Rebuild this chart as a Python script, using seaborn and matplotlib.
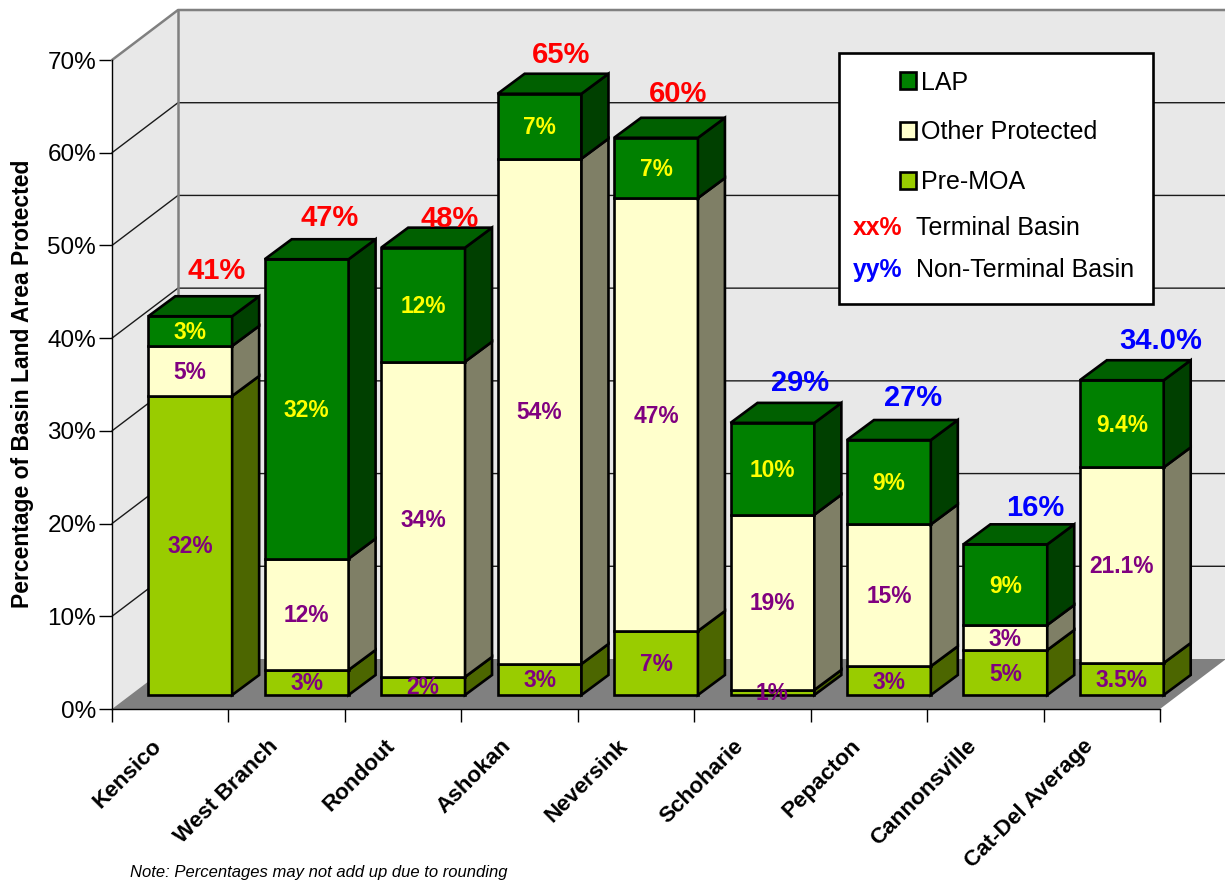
#!/usr/bin/env python3
# -*- coding: utf-8 -*-
'''Basin land area protected, stacked bars drawn with a fake 3D depth'''
import matplotlib
matplotlib.use("Agg")
import matplotlib.pyplot as plt
from matplotlib.patches import Patch, Polygon, Rectangle
import seaborn as sns

# data
basins = ["Kensico", "West Branch", "Rondout", "Ashokan", "Neversink",
          "Schoharie", "Pepacton", "Cannonsville", "Cat-Del Average"]
pre_moa = [32.25, 2.7, 1.95, 3.35, 6.9, 0.55, 3.1, 4.85, 3.45]
other_protected = [5.4, 12.0, 34.0, 54.5, 46.7, 18.9, 15.3, 2.7, 21.1]
lap = [3.2, 32.3, 12.3, 7.0, 6.5, 9.9, 9.1, 8.7, 9.4]
pre_moa_labels = ["32%", "3%", "2%", "3%", "7%", "1%", "3%", "5%", "3.5%"]
other_labels = ["5%", "12%", "34%", "54%", "47%", "19%", "15%", "3%", "21.1%"]
lap_labels = ["3%", "32%", "12%", "7%", "7%", "10%", "9%", "9%", "9.4%"]
total_labels = ["41%", "47%", "48%", "65%", "60%", "29%", "27%", "16%", "34.0%"]
terminal = [True, True, True, True, True, False, False, False, False]
y_ticks = [0, 10, 20, 30, 40, 50, 60, 70]

# pixels per data unit, the figure is 1225x884 at dpi 100
PX_X = 1048 / 9
PX_Y = 649 / 70
WALL_DX, WALL_DY = 66 / PX_X, 50 / PX_Y
BAR_DX, BAR_DY = 20 / PX_X, 14 / PX_Y
DEPTH_X, DEPTH_Y = 27 / PX_X, 20 / PX_Y
LABEL_SHIFT = 19 / PX_X
EDGE = 1.9

# where the total labels sit relative to the top of their bar, in pixels
total_nudge = [(26, 48), (23, 44), (27, 32), (22, 42), (22, 47),
               (28, 43), (24, 45), (30, 39), (39, 42)]

sns.set_theme(style="white")
plt.rcParams["font.family"] = ["Liberation Sans", "DejaVu Sans"]

fig = plt.figure(figsize=(12.25, 8.84), dpi=100)
ax = fig.add_axes([112 / 1225, (884 - 709) / 884, 1048 / 1225, 649 / 884])
ax.patch.set_visible(False)

# stacked front faces
bottoms = [0.0] * len(basins)
layers = [(pre_moa, "#99CC00", "#4C6600", pre_moa_labels, "#800080"),
          (other_protected, "#FFFFCC", "#7F7F66", other_labels, "#800080"),
          (lap, "#008000", "#004000", lap_labels, "#FFFF00")]
for values, front, side, labels, text_color in layers:
    start = len(ax.patches)
    sns.barplot(x=basins, y=values, bottom=bottoms, width=0.72, color=front,
                saturation=1, edgecolor="black", linewidth=EDGE, ax=ax)
    for i, bar in enumerate(ax.patches[start:]):
        bar.set_x(bar.get_x() + BAR_DX)
        bar.set_y(bar.get_y() + BAR_DY)
        bar.set_zorder(3)
        bar.set_clip_on(False)
        x0, x1 = bar.get_x(), bar.get_x() + bar.get_width()
        y0, y1 = bar.get_y(), bar.get_y() + bar.get_height()
        # right hand side of the block
        ax.add_patch(Polygon([(x1, y0), (x1 + DEPTH_X, y0 + DEPTH_Y),
                              (x1 + DEPTH_X, y1 + DEPTH_Y), (x1, y1)],
                             facecolor=side, edgecolor="black", linewidth=EDGE,
                             zorder=3, clip_on=False))
        # only the last layer shows a top face
        if values is lap:
            ax.add_patch(Polygon([(x0, y1), (x0 + DEPTH_X, y1 + DEPTH_Y),
                                  (x1 + DEPTH_X, y1 + DEPTH_Y), (x1, y1)],
                                 facecolor="#006000", edgecolor="black",
                                 linewidth=EDGE, zorder=3, clip_on=False))
        ax.text((x0 + x1) / 2, (y0 + y1) / 2 + 1 / PX_Y, labels[i], color=text_color,
                fontsize=16.4, fontweight="bold", ha="center",
                va="center_baseline", zorder=6)
    bottoms = [b + v for b, v in zip(bottoms, values)]

# totals over the bars
for i, label in enumerate(total_labels):
    ax.annotate(label, (i + BAR_DX, bottoms[i] + BAR_DY),
                xytext=total_nudge[i], textcoords="offset pixels",
                color="red" if terminal[i] else "blue", fontsize=21,
                fontweight="bold", ha="center", va="center_baseline",
                zorder=7, annotation_clip=False)

ax.set_xlim(-0.5, 8.5)
ax.set_ylim(0, 70)

# walls and floor behind the bars
left, right = -0.5, 8.5
ax.add_patch(Polygon([(left, 0), (left, 70), (left + WALL_DX, 70 + WALL_DY),
                      (right + WALL_DX, 70 + WALL_DY), (right + WALL_DX, WALL_DY),
                      (left + WALL_DX, WALL_DY)],
                     facecolor="#E8E8E8", edgecolor="none", zorder=0, clip_on=False))
ax.add_patch(Polygon([(left, 0), (right, 0), (right + WALL_DX, WALL_DY),
                      (left + WALL_DX, WALL_DY)],
                     facecolor="#808080", edgecolor="none", zorder=1, clip_on=False))
for v in y_ticks[1:-1]:
    ax.plot([left, left + WALL_DX, right + WALL_DX],
            [v, v + WALL_DY, v + WALL_DY], color="#1A1A1A", linewidth=1,
            zorder=1, clip_on=False)
ax.plot([left, left + WALL_DX, right + WALL_DX], [70, 70 + WALL_DY, 70 + WALL_DY],
        color="#808080", linewidth=1.8, zorder=1, clip_on=False)
ax.plot([left + WALL_DX, left + WALL_DX], [WALL_DY, 70 + WALL_DY],
        color="#808080", linewidth=1.8, zorder=1, clip_on=False)

# axes
for name in ["top", "right"]:
    ax.spines[name].set_visible(False)
for name in ["left", "bottom"]:
    ax.spines[name].set_color("black")
    ax.spines[name].set_linewidth(1)
ax.set_yticks(y_ticks)
ax.set_yticklabels([f"{v}%" for v in y_ticks])
ax.set_xticks([i - 0.5 for i in range(len(basins) + 1)])
ax.set_xticklabels([])
ax.set_xticks([i - LABEL_SHIFT for i in range(len(basins))], minor=True)
ax.set_xticklabels(basins, minor=True, rotation=45, ha="right", va="top",
                   rotation_mode="anchor", fontsize=16.2, fontweight="bold",
                   color="black")
ax.tick_params(axis="y", length=9.4, width=1, pad=2, color="black",
               labelsize=17.5, labelcolor="black", left=True)
ax.tick_params(axis="x", which="major", length=9.4, width=1, color="black",
               bottom=True)
ax.tick_params(axis="x", which="minor", length=0, pad=19, bottom=True)
ax.xaxis.get_major_ticks()[-1].tick1line.set_color("#808080")
ax.set_ylabel("Percentage of Basin Land Area Protected", fontsize=16.5,
              fontweight="bold", color="black")
ax.yaxis.set_label_coords(34 / 1225, (884 - 384) / 884, transform=fig.transFigure)

# legend box
ax.add_patch(Rectangle((839 / 1225, 1 - 304 / 884), 314 / 1225, 251 / 884,
                       transform=fig.transFigure, facecolor="white",
                       edgecolor="black", linewidth=EDGE, zorder=8, clip_on=False))
handles = [Patch(facecolor="#008000", edgecolor="black", linewidth=EDGE, label="LAP"),
           Patch(facecolor="#FFFFCC", edgecolor="black", linewidth=EDGE,
                 label="Other Protected"),
           Patch(facecolor="#99CC00", edgecolor="black", linewidth=EDGE, label="Pre-MOA")]
legend = ax.legend(handles=handles, frameon=False, loc="upper left",
                   bbox_to_anchor=(900 / 1225, 1 - 70.5 / 884),
                   bbox_transform=fig.transFigure, borderpad=0, borderaxespad=0,
                   fontsize=18, handlelength=0.65, handleheight=0.65,
                   handletextpad=0.18, labelspacing=1.03)
legend.set_zorder(9)
for text in legend.get_texts():
    text.set_color("black")
key_rows = [("xx%", "red", "Terminal Basin", 228),
            ("yy%", "blue", "Non-Terminal Basin", 270)]
for key, color, name, row in key_rows:
    ax.text(853 / 1225, 1 - row / 884, key, transform=fig.transFigure, color=color,
            fontsize=17.8, fontweight="bold", va="center", zorder=9)
    ax.text(916 / 1225, 1 - row / 884, name, transform=fig.transFigure, color="black",
            fontsize=18, va="center", zorder=9)

fig.text(130 / 1225, 1 - 873 / 884,
         "Note: Percentages may not add up due to rounding",
         fontsize=12, fontstyle="italic", color="black", va="center")

fig.savefig("out.png", dpi=100)
